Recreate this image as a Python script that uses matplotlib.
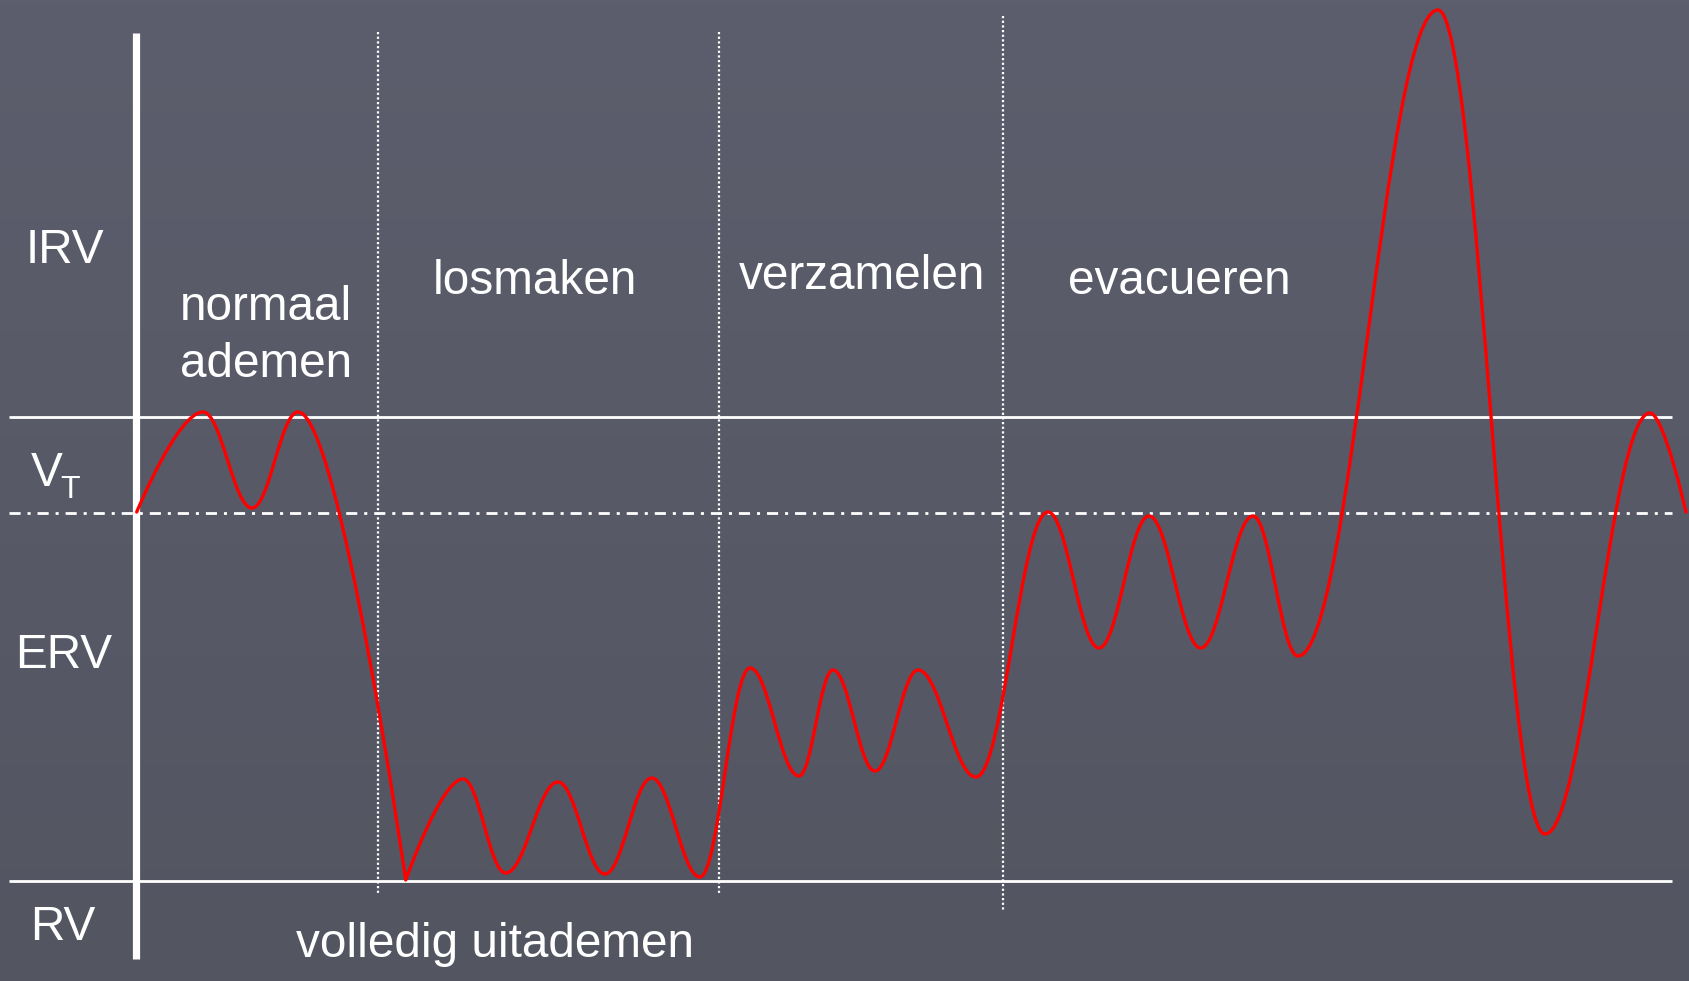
import numpy as np
import matplotlib.pyplot as plt
from matplotlib.path import Path
from matplotlib.patches import PathPatch

plt.rcParams['font.family'] = ['Liberation Sans', 'DejaVu Sans']

# screen units: x = time to the right, y = pixel row (0 at top)
# turning points of the breathing trace
trace_x = [136.7, 203, 252, 298, 405.7, 463, 505.7, 558, 605, 651.7, 700,
           750, 799, 833, 875, 918, 976, 1048, 1099, 1149, 1200.7, 1253,
           1298, 1438, 1545, 1650, 1686]
trace_y = [512, 412, 508, 412, 880, 779, 873, 782, 874, 778, 877,
           668, 776, 670, 771, 670, 777, 512, 648, 516, 648, 516,
           656, 10, 834, 413, 512]
# points where the trace is not flat (start, sharp bottom, end)
trace_corner = [True] + [False] * 3 + [True] + [False] * 21 + [True]

# volume levels
level_solid = [416.7, 880.7]   # top of V_T, top of RV
level_dashdot = 512.7          # rest level (top of ERV)
level_x = [8.6, 1672]

# phase dividers
divider_x = [377.7, 719.3, 1003.3]
divider_top = [32, 32, 16]
divider_bot = [895, 895, 911]

axis_x = 136.5
axis_y = [33, 959]

fig = plt.figure(figsize=(16.9, 9.81), dpi=100)
ax = fig.add_axes([0, 0, 1, 1])
ax.set_xlim(0, 1690)
ax.set_ylim(981, 0)
ax.axis('off')

# background, slight vertical shading
grad = np.linspace(0, 1, 256).reshape(-1, 1)
top = np.array([92, 94, 109]) / 255
bot = np.array([83, 85, 97]) / 255
bg = top + (bot - top) * grad[..., None]
ax.imshow(bg, extent=[0, 1690, 981, 0], aspect='auto', zorder=0)

white = 'white'
for y in level_solid:
    ax.plot(level_x, [y, y], color=white, lw=2.0, solid_capstyle='butt', zorder=2)
ax.plot(level_x, [level_dashdot] * 2, color=white, lw=2.0,
        dashes=(4, 2.5, 1.1, 2.5), dash_capstyle='butt', zorder=2)

for x, t, b in zip(divider_x, divider_top, divider_bot):
    ax.plot([x, x], [t, b], color=white, lw=1.6, dashes=(1, 1.1),
            dash_capstyle='butt', zorder=2)

ax.plot([axis_x, axis_x], axis_y, color=white, lw=5.2, solid_capstyle='butt', zorder=3)

# red trace as bezier segments with flat tangents at the turning points
k = 0.38
verts = [(trace_x[0], trace_y[0])]
codes = [Path.MOVETO]
for i in range(len(trace_x) - 1):
    x0, y0, x1, y1 = trace_x[i], trace_y[i], trace_x[i + 1], trace_y[i + 1]
    dx = x1 - x0
    c1 = (x0, y0) if trace_corner[i] else (x0 + k * dx, y0)
    c2 = (x1, y1) if trace_corner[i + 1] else (x1 - k * dx, y1)
    verts += [c1, c2, (x1, y1)]
    codes += [Path.CURVE4] * 3
ax.add_patch(PathPatch(Path(verts, codes), fill=False, edgecolor='#ff0000',
                       lw=2.4, capstyle='round', joinstyle='round', zorder=4))

fs = 34.4
txt = dict(color=white, fontsize=fs, va='baseline', ha='left', zorder=5)
ax.text(26, 263, 'IRV', **txt)
ax.text(31, 486, 'V', **txt)
ax.text(60, 498, 'T', color=white, fontsize=23, va='baseline', ha='left', zorder=5)
ax.text(15, 668, 'ERV', **txt)
ax.text(30, 940, 'RV', **txt)
ax.text(180, 320, 'normaal', **txt)
ax.text(180, 377, 'ademen', **txt)
ax.text(433, 294, 'losmaken', **txt)
ax.text(739, 289, 'verzamelen', **txt)
ax.text(1068, 294, 'evacueren', **txt)
ax.text(296, 957, 'volledig uitademen', **txt)

fig.savefig('out.png', dpi=100)
